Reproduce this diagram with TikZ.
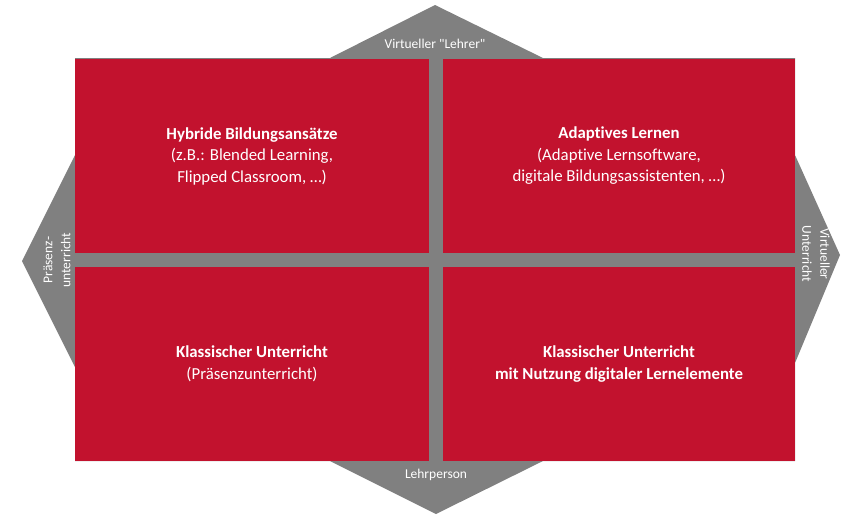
\documentclass[tikz,border=0pt]{standalone}
\usepackage{fontspec}
\setmainfont{Carlito}[Ligatures=NoCommon]
\usepackage{tikz}
\usetikzlibrary{positioning}

\definecolor{quadred}{RGB}{194,18,46}
\definecolor{axisgray}{RGB}{128,128,128}

\begin{document}
\begin{tikzpicture}[
    x=1pt, y=-1pt,
    quad/.style={rectangle, fill=quadred, text=white, align=center, inner sep=0pt,
      minimum width=354pt, minimum height=194pt, font=\fontsize{16.8}{21.5}\selectfont},
    axislabel/.style={text=white, align=center, inner sep=0pt, font=\fontsize{13.5}{18}\selectfont}
  ]

    \useasboundingbox (0,0) rectangle (841,515);

    % grauer Hintergrund mit den vier Pfeilspitzen
    \fill[axisgray] (435,5) -- (543,58) -- (795,58) -- (795,155) -- (840,255)
      -- (795,363) -- (795,461) -- (543,461) -- (436,514) -- (330,461)
      -- (75,461) -- (75,367) -- (22,261) -- (75,155) -- (75,58) -- (330,58) -- cycle;

    % die vier Quadranten
    \node[quad] (hybrid) at (252,156)
      {\textbf{Hybride Bildungsansätze}\\(z.B.: Blended Learning,\\Flipped Classroom, …)};
    \node[quad, minimum width=352pt] (adaptiv) at (619,156)
      {\textbf{Adaptives Lernen}\\(Adaptive Lernsoftware,\\digitale Bildungsassistenten, …)};
    \node[quad] (klassisch) at (252,364)
      {\textbf{Klassischer Unterricht}\\(Präsenzunterricht)};
    \node[quad, minimum width=352pt] (digital) at (619,364)
      {\textbf{Klassischer Unterricht}\\\textbf{mit Nutzung digitaler Lernelemente}};

    % Achsenbeschriftungen
    \node[axislabel] (lehrer) at (435,44) {Virtueller \textquotedbl Lehrer\textquotedbl};
    \node[axislabel] (lehrperson) at (436,475) {Lehrperson};
    \node[axislabel, rotate=90] (praesenz) at (57,260) {Präsenz-\\unterricht};
    \node[axislabel, rotate=-90] (virtuell) at (816,254) {Virtueller\\Unterricht};

\end{tikzpicture}
\end{document}
